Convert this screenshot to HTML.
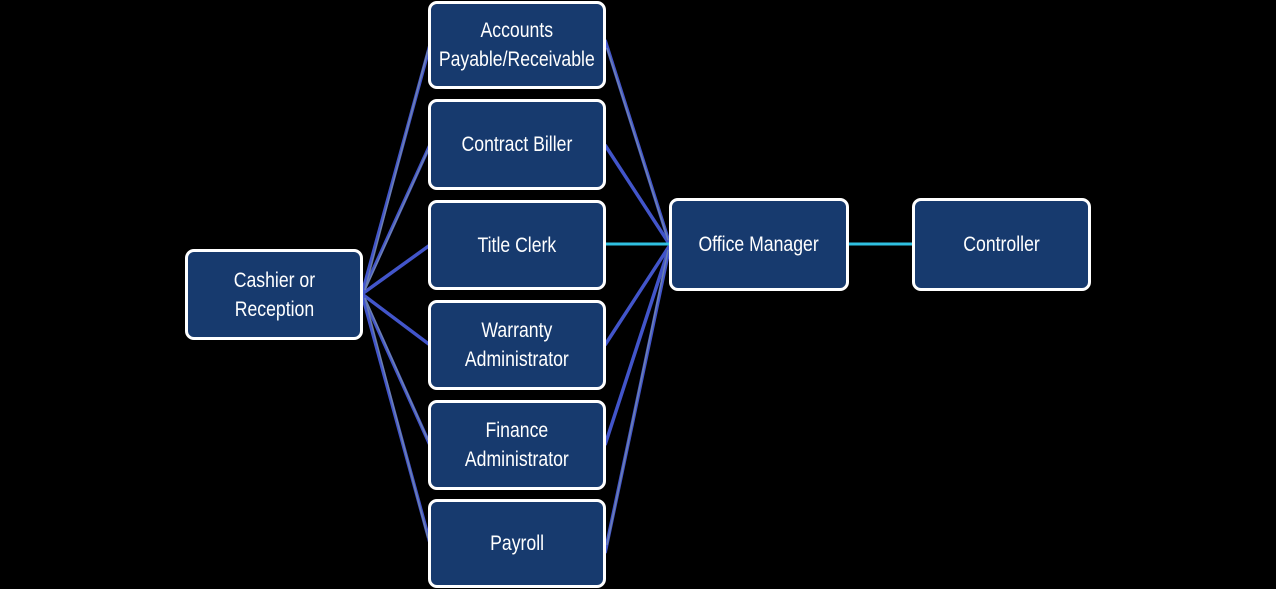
<!DOCTYPE html>
<html><head><meta charset="utf-8"><style>
body{margin:0;width:1276px;height:589px;background:#000;position:relative;overflow:hidden;font-family:"Liberation Sans",sans-serif}
.b{position:absolute;box-sizing:border-box;background:#173a6e;border:3px solid #fff;border-radius:9px;display:flex;align-items:center;justify-content:center;text-align:center;color:#fff;font-size:21px;line-height:29px}
.b span{display:inline-block;transform:scaleX(0.84);white-space:nowrap}
svg{position:absolute;left:0;top:0}
</style></head><body>
<svg width="1276" height="589">
<g stroke="#4a5fe0" stroke-width="3.5" fill="none" opacity="0.9">
<line x1="362" y1="294" x2="430" y2="45"/>
<line x1="362" y1="294" x2="430" y2="145"/>
<line x1="362" y1="294" x2="430" y2="245"/>
<line x1="362" y1="294" x2="430" y2="345"/>
<line x1="362" y1="294" x2="430" y2="445"/>
<line x1="362" y1="294" x2="430" y2="543"/>
<line x1="670" y1="245" x2="605" y2="40"/>
<line x1="670" y1="245" x2="605" y2="145"/>
<line x1="670" y1="245" x2="605" y2="345"/>
<line x1="670" y1="245" x2="605" y2="445"/>
<line x1="670" y1="245" x2="605" y2="553"/>
</g>
<g stroke="#7f93a8" stroke-width="1.5" fill="none" opacity="0.7">
<line x1="365" y1="290" x2="428" y2="50"/>
<line x1="365" y1="290" x2="428" y2="150"/>
<line x1="365" y1="298" x2="428" y2="440"/>
<line x1="365" y1="298" x2="428" y2="538"/>
<line x1="668" y1="240" x2="607" y2="48"/>
<line x1="668" y1="250" x2="607" y2="545"/>
</g>
<line x1="606" y1="244" x2="670" y2="244" stroke="#2fc0e0" stroke-width="3"/>
<line x1="848" y1="244" x2="913" y2="244" stroke="#2fc0e0" stroke-width="3"/>
</svg>
<div class="b" style="left:428px;top:1px;width:178px;height:88px"><span>Accounts<br>Payable/Receivable</span></div>
<div class="b" style="left:428px;top:99px;width:178px;height:91px"><span>Contract Biller</span></div>
<div class="b" style="left:428px;top:200px;width:178px;height:90px"><span>Title Clerk</span></div>
<div class="b" style="left:428px;top:300px;width:178px;height:90px"><span>Warranty<br>Administrator</span></div>
<div class="b" style="left:428px;top:400px;width:178px;height:90px"><span>Finance<br>Administrator</span></div>
<div class="b" style="left:428px;top:499px;width:178px;height:89px"><span>Payroll</span></div>
<div class="b" style="left:185px;top:249px;width:178px;height:91px"><span>Cashier or<br>Reception</span></div>
<div class="b" style="left:669px;top:198px;width:180px;height:93px"><span>Office Manager</span></div>
<div class="b" style="left:912px;top:198px;width:179px;height:93px"><span>Controller</span></div>
</body></html>
